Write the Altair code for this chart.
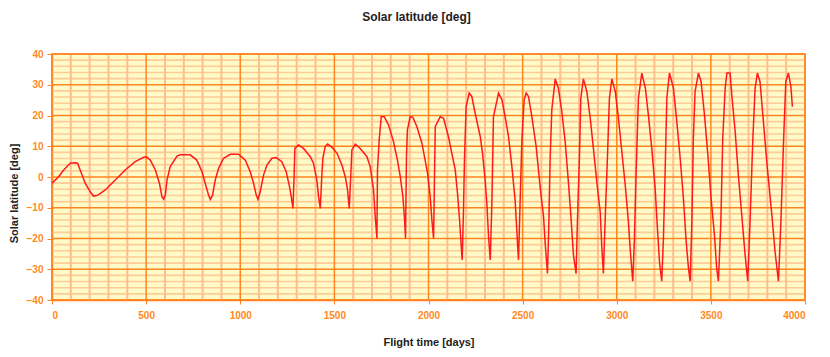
import altair as alt
import pandas as pd

# Flight time [days]
days = [0, 35, 62, 97, 124, 136, 156, 177, 203, 221, 244, 283, 336, 389, 442, 487, 501, 522, 549, 571,
        584, 593, 602, 611, 628, 664, 681, 734, 769, 797, 814, 832, 841, 853, 867, 885, 911, 947, 991, 1027,
        1053, 1071, 1085, 1094, 1106, 1124, 1142, 1168, 1191, 1221, 1244, 1262, 1275, 1280, 1286, 1290, 1310,
        1336, 1372, 1389, 1407, 1416, 1425, 1434, 1439, 1451, 1464, 1487, 1514, 1540, 1558, 1570, 1579, 1588,
        1593, 1611, 1637, 1673, 1690, 1708, 1717, 1726, 1729, 1738, 1749, 1765, 1788, 1814, 1835, 1850, 1864,
        1873, 1878, 1883, 1888, 1903, 1917, 1938, 1965, 1982, 1995, 2009, 2018, 2027, 2031, 2036, 2062, 2080,
        2106, 2124, 2142, 2154, 2165, 2174, 2179, 2186, 2191, 2200, 2216, 2230, 2248, 2275, 2287, 2301, 2310,
        2319, 2328, 2337, 2345, 2372, 2390, 2407, 2425, 2443, 2460, 2469, 2478, 2487, 2496, 2508, 2519, 2531,
        2549, 2572, 2593, 2611, 2620, 2632, 2639, 2646, 2655, 2673, 2690, 2708, 2726, 2743, 2756, 2770, 2784,
        2791, 2802, 2809, 2823, 2841, 2859, 2876, 2894, 2912, 2921, 2929, 2938, 2951, 2961, 2974, 2992, 3009,
        3027, 3045, 3062, 3071, 3085, 3094, 3103, 3115, 3133, 3152, 3168, 3186, 3204, 3216, 3227, 3239, 3248,
        3257, 3266, 3280, 3301, 3319, 3337, 3354, 3369, 3381, 3390, 3399, 3407, 3416, 3434, 3448, 3466, 3484,
        3501, 3519, 3531, 3540, 3553, 3563, 3576, 3585, 3602, 3611, 3629, 3646, 3664, 3682, 3696, 3708, 3723,
        3735, 3747, 3761, 3779, 3800, 3824, 3841, 3859, 3872, 3886, 3898, 3912, 3925, 3933]

# Solar latitude [deg]
latitude = [-2.0, 0.1, 2.3, 4.5, 4.6, 4.5, 1.2, -2.1, -4.8, -6.2, -5.9, -4.2, -1.0, 2.3, 5.0, 6.4, 6.6, 5.5, 2.3, -2.1,
            -6.4, -7.2, -5.9, -1.0, 3.4, 6.8, 7.2, 7.2, 5.5, 1.7, -2.1, -5.9, -7.3, -5.9, -1.0, 2.8, 6.1, 7.4, 7.4, 5.5,
            1.7, -2.1, -5.9, -7.3, -4.8, 0.7, 3.9, 6.1, 6.3, 5.0, 1.7, -3.2, -8.0, -10.2, 0.0, 9.3, 10.4,
            9.3, 6.6, 4.5, -1.0, -6.4, -10.2, 1.2, 6.1, 9.9, 10.7, 9.7, 7.7, 3.9, 0.1, -4.2, -10.2, 1.7,
            8.8, 10.7, 9.3, 6.6, 3.4, -4.2, -12.9, -20.0, 2.3, 12.0, 19.6, 19.6, 16.9, 11.5, 5.5, 0.1, -6.4,
            -14.0, -20.0, 6.6, 15.3, 19.6, 19.4, 16.4, 11.0, 5.5, 1.2, -6.4, -14.0, -20.0, -3.2, 16.4, 19.6, 19.1,
            13.1, 7.7, 2.3, -5.3, -14.0, -22.7, -27.0, -10.7, 5.5, 22.9, 27.3, 26.2, 20.7, 13.1, 7.7, -1.0, -8.6,
            -19.4, -27.0, -7.5, 19.6, 27.3, 25.1, 19.6, 13.1, 3.4, -7.5, -17.3, -27.0, -7.5, 12.0, 25.1, 27.3, 26.2,
            19.6, 9.9, -3.2, -12.9, -21.6, -31.4, -16.2, 5.5, 21.8, 31.9, 28.9, 21.3, 11.5, -1.5, -12.4, -25.4, -31.4,
            -14.6, 7.2, 25.6, 31.9, 27.8, 19.1, 9.3, -1.5, -11.3, -23.2, -31.4, -14.6, 7.2, 25.6, 31.9, 27.8, 19.1,
            8.2, -2.6, -14.6, -23.2, -33.9, -20.0, 1.7, 25.6, 33.8, 28.9, 20.2, 9.3, -3.7, -16.7, -27.6, -33.9, -20.0,
            1.7, 25.6, 33.8, 28.9, 18.0, 6.1, -6.9, -21.1, -29.7, -33.9, -14.6, 12.6, 27.8, 33.8, 31.0, 20.2, 7.2,
            -6.9, -18.9, -29.7, -33.9, -14.6, 12.6, 28.9, 33.8, 33.8, 26.7, 14.8, 0.7, -12.4, -25.4, -33.9, -14.6, 12.6,
            28.9, 33.8, 31.0, 18.0, 2.8, -12.4, -24.3, -33.9, -14.6, 11.5, 31.0, 33.8, 29.4, 22.9]

x_ticks = [0, 500, 1000, 1500, 2000, 2500, 3000, 3500, 4000]
y_ticks = [-40, -30, -20, -10, 0, 10, 20, 30, 40]
x_minor = [v for v in range(100, 4000, 100) if v % 500 != 0]
y_minor = [v for v in range(-38, 40, 2) if v % 10 != 0]

W, H = 753, 246
ORANGE = "#FF8A1E"
MAJOR = "#FF8520"
MINOR = "#FFCB96"

df = pd.DataFrame({"day": days, "lat": latitude})

xscale = alt.Scale(domain=[0, 4000], nice=False)
yscale = alt.Scale(domain=[-40, 40], nice=False)

x_axis = alt.Axis(values=x_ticks, grid=False, title="Flight time [days]", format="d",
                  labelColor=ORANGE, labelFontWeight="bold", labelFontSize=10,
                  labelFont="Liberation Sans", labelPadding=6,
                  tickColor=MAJOR, tickSize=4, domainColor=MAJOR, domainWidth=1.5,
                  titleFont="Liberation Sans", titleFontSize=11, titleFontWeight="bold",
                  titleColor="#222222", titleBaseline="middle", titleY=42)
y_axis = alt.Axis(values=y_ticks, grid=False, title="Solar latitude [deg]", format="d",
                  labelColor=ORANGE, labelFontWeight="bold", labelFontSize=10,
                  labelFont="Liberation Sans", labelPadding=4,
                  tickColor=MAJOR, tickSize=5, domainColor=MAJOR, domainWidth=1.5,
                  titleFont="Liberation Sans", titleFontSize=11, titleFontWeight="bold",
                  titleColor="#222222", titleAngle=270, titleAlign="center",
                  titleBaseline="middle", titleX=-38, titleY=139)

minor_h = alt.Chart(pd.DataFrame({"v": y_minor})).mark_rule(
    color=MINOR, strokeWidth=1.6).encode(y=alt.Y("v:Q", scale=yscale, axis=y_axis))
minor_v = alt.Chart(pd.DataFrame({"v": x_minor})).mark_rule(
    color="#FFBE8C", strokeWidth=2).encode(x=alt.X("v:Q", scale=xscale, axis=x_axis))
major_h = alt.Chart(pd.DataFrame({"v": y_ticks})).mark_rule(
    color=MAJOR, strokeWidth=1.5).encode(y=alt.Y("v:Q", scale=yscale, axis=y_axis))
major_v = alt.Chart(pd.DataFrame({"v": x_ticks})).mark_rule(
    color=MAJOR, strokeWidth=1.5).encode(x=alt.X("v:Q", scale=xscale, axis=x_axis))

line = alt.Chart(df).mark_line(color="#FF1A1A", strokeWidth=1.5).encode(
    x=alt.X("day:Q", scale=xscale, axis=x_axis),
    y=alt.Y("lat:Q", scale=yscale, axis=y_axis),
)

chart = alt.layer(minor_h, minor_v, major_h, major_v, line).properties(
    width=W, height=H,
    title=alt.TitleParams("Solar latitude [deg]", font="Liberation Sans", fontSize=12,
                          fontWeight="bold", color="#222222", anchor="middle",
                          frame="group", baseline="middle", offset=20, dx=-12),
    autosize=alt.AutoSizeParams(type="none"),
    padding={"left": 44, "top": 46, "right": 15, "bottom": 48},
).configure_view(fill="#FFFBC8", stroke=MAJOR, strokeWidth=1.5)

chart.save("out.html", embed_options={"renderer": "svg", "actions": False})
